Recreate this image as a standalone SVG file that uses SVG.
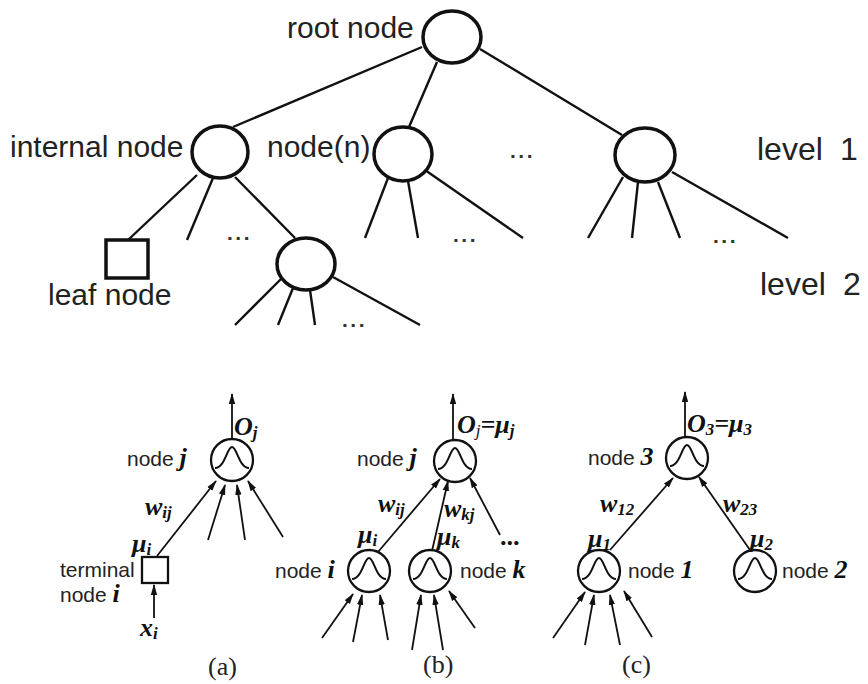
<svg xmlns="http://www.w3.org/2000/svg" width="868" height="684" viewBox="0 0 868 684">
<defs>
<marker id="ah" markerUnits="userSpaceOnUse" markerWidth="11" markerHeight="8" refX="10" refY="4" orient="auto">
<path d="M0,0.8 L11,4 L0,7.2 z" fill="#111"/>
</marker>
</defs>
<style>
.tl{fill:#222;font-family:"Liberation Sans",Arial,sans-serif;font-size:30px}
.lv{fill:#222;font-family:"Liberation Sans",Arial,sans-serif;font-size:32px}
.tn{fill:none;stroke:#111;stroke-width:3.5}
.te{stroke:#111;stroke-width:2.4;fill:none}
.dots{fill:#333;font-family:"Liberation Sans",Arial,sans-serif;font-size:21px;font-weight:bold;letter-spacing:2.5px}
.bl{fill:#222;font-family:"Liberation Sans",Arial,sans-serif;font-size:21px}
.mi{fill:#111;font-family:"Liberation Serif","Times New Roman",serif;font-style:italic;font-weight:bold;font-size:26px}
.sb{font-size:17px}
.cap{fill:#222;font-family:"Liberation Serif","Times New Roman",serif;font-size:26px}
.bn{fill:#fff;stroke:#111;stroke-width:2.3}
.g{fill:none;stroke:#111;stroke-width:2}
.ar{stroke:#111;stroke-width:1.8;fill:none;marker-end:url(#ah)}
</style>
<rect width="868" height="684" fill="#fff"/>

<!-- connectors -->
<g id="connectors">
<line class="te" x1="422" y1="47" x2="233" y2="127"/>
<line class="te" x1="437" y1="62" x2="409" y2="127"/>
<line class="te" x1="480" y1="49" x2="622" y2="135"/>
<line class="te" x1="197" y1="175" x2="128" y2="240"/>
<line class="te" x1="213" y1="178" x2="187" y2="240"/>
<line class="te" x1="235" y1="177" x2="295" y2="238"/>
<line class="te" x1="282" y1="278" x2="235" y2="325"/>
<line class="te" x1="293" y1="288" x2="278" y2="325"/>
<line class="te" x1="310" y1="290" x2="315" y2="325"/>
<line class="te" x1="333" y1="277" x2="420" y2="325"/>
<line class="te" x1="388" y1="178" x2="365" y2="238"/>
<line class="te" x1="408" y1="181" x2="418" y2="238"/>
<line class="te" x1="425" y1="170" x2="523" y2="238"/>
<line class="te" x1="623" y1="177" x2="588" y2="238"/>
<line class="te" x1="638" y1="182" x2="632" y2="238"/>
<line class="te" x1="658" y1="182" x2="680" y2="238"/>
<line class="te" x1="672" y1="172" x2="788" y2="238"/>

<!-- (a) -->
<line class="ar" x1="232" y1="440" x2="232" y2="394"/>
<line class="ar" x1="157" y1="556" x2="216" y2="481"/>
<line class="ar" x1="208" y1="540" x2="225" y2="485"/>
<line class="ar" x1="245" y1="540" x2="237" y2="485"/>
<line class="ar" x1="283" y1="537" x2="248" y2="481"/>
<line class="ar" x1="154" y1="618" x2="154" y2="585"/>

<!-- (b) -->
<line class="ar" x1="453" y1="440" x2="453" y2="394"/>
<line class="ar" x1="378" y1="552" x2="440" y2="479"/>
<line class="ar" x1="432" y1="551" x2="448" y2="481"/>
<line class="ar" x1="500" y1="535" x2="470" y2="478"/>
<line class="ar" x1="322" y1="638" x2="353" y2="594"/>
<line class="ar" x1="353" y1="642" x2="362" y2="595"/>
<line class="ar" x1="388" y1="640" x2="380" y2="595"/>
<line class="ar" x1="412" y1="650" x2="421" y2="595"/>
<line class="ar" x1="443" y1="650" x2="434" y2="595"/>
<line class="ar" x1="475" y1="628" x2="449" y2="591"/>

<!-- (c) -->
<line class="ar" x1="685" y1="437" x2="685" y2="392"/>
<line class="ar" x1="610" y1="550" x2="673" y2="478"/>
<line class="ar" x1="750" y1="550" x2="699" y2="477"/>
<line class="ar" x1="553" y1="638" x2="585" y2="592"/>
<line class="ar" x1="585" y1="645" x2="594" y2="595"/>
<line class="ar" x1="620" y1="645" x2="610" y2="595"/>
<line class="ar" x1="652" y1="637" x2="624" y2="591"/>
</g>

<!-- top tree nodes -->
<g id="root">
<ellipse class="tn" cx="452" cy="37" rx="29" ry="26"/>
<text class="tl" x="287" y="38">root node</text>
</g>
<g id="internal-node">
<ellipse class="tn" cx="220" cy="152" rx="28" ry="26"/>
<text class="tl" x="10" y="157">internal node</text>
</g>
<g id="node-n">
<ellipse class="tn" cx="403" cy="154" rx="29" ry="27"/>
<text class="tl" x="267" y="157">node(n)</text>
</g>
<g id="node-r">
<ellipse class="tn" cx="645" cy="155" rx="30" ry="27"/>
</g>
<g id="leaf">
<rect class="tn" x="106" y="240" width="42" height="38"/>
<text class="tl" x="48" y="305">leaf node</text>
</g>
<g id="node-l2">
<ellipse class="tn" cx="306" cy="264" rx="29" ry="26"/>
</g>
<g id="dots-top">
<text class="dots" x="510" y="158">...</text>
<text class="dots" x="227" y="240">...</text>
<text class="dots" x="342" y="327">...</text>
<text class="dots" x="453" y="242">...</text>
<text class="dots" x="713" y="243">...</text>
</g>
<g id="levels">
<text class="lv" x="757" y="160">level<tspan x="840">1</tspan></text>
<text class="lv" x="760" y="295">level<tspan x="843">2</tspan></text>
</g>

<!-- (a) -->
<g id="a-node-j">
<circle class="bn" cx="232" cy="460" r="21"/>
<path class="g" d="M215,468 C225,468 227,447 232,447 C237,447 239,468 249,468"/>
<text class="bl" x="127" y="466">node <tspan class="mi" font-size="26">j</tspan></text>
<text class="mi" x="234" y="435" font-weight="normal" font-size="28">O<tspan class="sb" dy="3" font-size="18">j</tspan></text>
</g>
<g id="a-terminal">
<rect class="bn" x="142" y="557" width="26" height="26"/>
<text class="bl" x="60" y="577" font-size="20">terminal</text>
<text class="bl" x="60" y="602" font-size="20">node <tspan class="mi" font-size="22">i</tspan></text>
<text class="mi" x="145" y="515">w<tspan class="sb" dy="3">ij</tspan></text>
<text class="mi" x="132" y="552">μ<tspan class="sb" dy="3">i</tspan></text>
<text class="mi" x="140" y="636">x<tspan class="sb" dy="3">i</tspan></text>
</g>
<text class="cap" x="208" y="675">(a)</text>

<!-- (b) -->
<g id="b-node-j">
<circle class="bn" cx="455" cy="461" r="21"/>
<path class="g" d="M438,469 C448,469 450,448 455,448 C460,448 462,469 472,469"/>
<text class="bl" x="357" y="466">node <tspan class="mi" font-size="26">j</tspan></text>
<text class="mi" x="457" y="433">O<tspan class="sb" dy="3" font-weight="normal">j</tspan><tspan dy="-3">=μ</tspan><tspan class="sb" dy="3">j</tspan></text>
</g>
<g id="b-node-i">
<circle class="bn" cx="369" cy="571" r="21"/>
<path class="g" d="M352,579 C362,579 364,558 369,558 C374,558 376,579 386,579"/>
<text class="bl" x="275" y="578">node <tspan class="mi" font-size="26">i</tspan></text>
<text class="mi" x="358" y="543">μ<tspan class="sb" dy="3">i</tspan></text>
<text class="mi" x="378" y="512">w<tspan class="sb" dy="3">ij</tspan></text>
</g>
<g id="b-node-k">
<circle class="bn" cx="430" cy="571" r="21"/>
<path class="g" d="M413,579 C423,579 425,558 430,558 C435,558 437,579 447,579"/>
<text class="bl" x="460" y="578">node <tspan class="mi" font-size="26">k</tspan></text>
<text class="mi" x="437" y="545">μ<tspan class="sb" dy="3">k</tspan></text>
<text class="mi" x="444" y="517">w<tspan class="sb" dy="3">kj</tspan></text>
<text class="mi" x="501" y="545" font-size="22">...</text>
</g>
<text class="cap" x="423" y="673">(b)</text>

<!-- (c) -->
<g id="c-node-3">
<circle class="bn" cx="687" cy="458" r="21"/>
<path class="g" d="M670,466 C680,466 682,445 687,445 C692,445 694,466 704,466"/>
<text class="bl" x="588" y="465">node <tspan class="mi" font-size="28" font-weight="normal">3</tspan></text>
<text class="mi" x="687" y="432">O<tspan class="sb" dy="3">3</tspan><tspan dy="-3">=μ</tspan><tspan class="sb" dy="3">3</tspan></text>
</g>
<g id="c-node-1">
<circle class="bn" cx="599" cy="571" r="21"/>
<path class="g" d="M582,579 C592,579 594,558 599,558 C604,558 606,579 616,579"/>
<text class="bl" x="628" y="578">node <tspan class="mi" font-size="28" font-weight="normal">1</tspan></text>
<text class="mi" x="588" y="547">μ<tspan class="sb" dy="3">1</tspan></text>
<text class="mi" x="600" y="512">w<tspan class="sb" dy="3">12</tspan></text>
</g>
<g id="c-node-2">
<circle class="bn" cx="755" cy="571" r="21"/>
<path class="g" d="M738,579 C748,579 750,558 755,558 C760,558 762,579 772,579"/>
<text class="bl" x="782" y="578">node <tspan class="mi" font-size="28" font-weight="normal">2</tspan></text>
<text class="mi" x="750" y="547">μ<tspan class="sb" dy="3">2</tspan></text>
<text class="mi" x="723" y="512">w<tspan class="sb" dy="3">23</tspan></text>
</g>
<text class="cap" x="622" y="673">(c)</text>
</svg>
